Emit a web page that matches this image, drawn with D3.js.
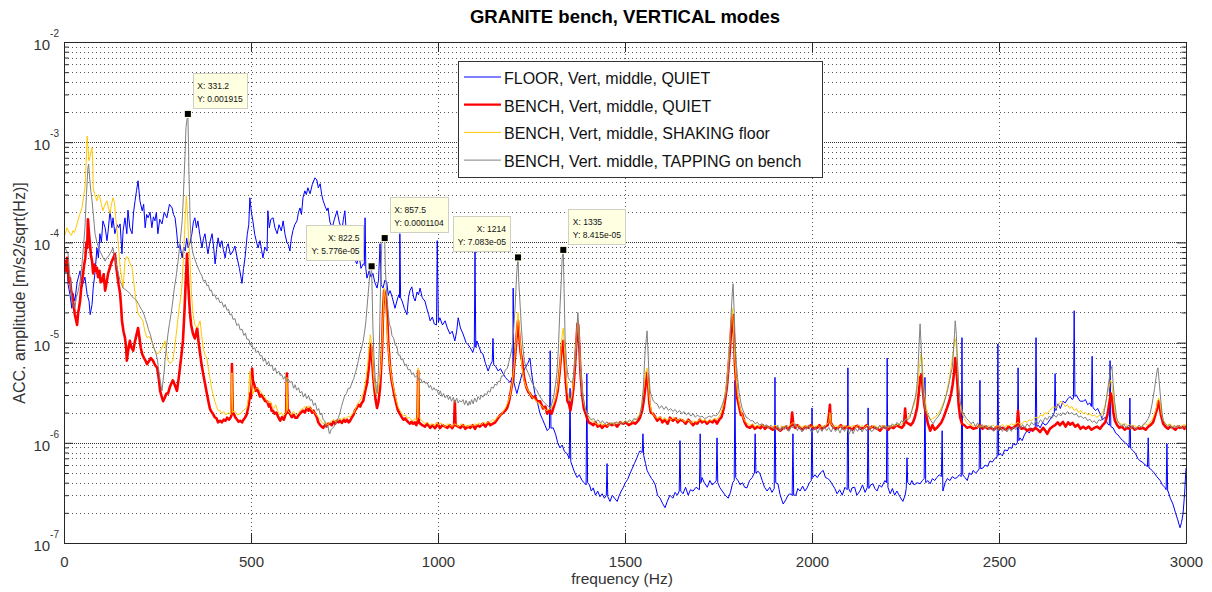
<!DOCTYPE html>
<html>
<head>
<meta charset="UTF-8">
<title>GRANITE bench, VERTICAL modes</title>
<script src="https://d3js.org/d3.v7.min.js"></script>
<style>
  body { margin: 0; background: #fff; }
  svg { font-family: "Liberation Sans", Arial, sans-serif; }
</style>
</head>
<body>
<svg width="1212" height="592"></svg>
<script>
// amplitudes below are in units of 1e-6 m/s2/sqrt(Hz), frequencies in Hz
const UNIT = 1e-6;

const titleText = 'GRANITE bench, VERTICAL modes';
const xLabel = 'frequency (Hz)';
const yLabel = 'ACC. amplitude [m/s2/sqrt(Hz)]';
const seriesNames = [
  'FLOOR, Vert, middle, QUIET',
  'BENCH, Vert, middle, QUIET',
  'BENCH, Vert, middle, SHAKING floor',
  'BENCH, Vert. middle, TAPPING on bench'
];
const xTicks = [0, 500, 1000, 1500, 2000, 2500, 3000];
const yDecades = [-7, -6, -5, -4, -3, -2];

// FLOOR, quiet
const floorQuiet = [
[0,44],[3,52],[8,61],[11,38],[16,30],[21,22],[24,31],[29,26],[35,40],[43,52],[48,36],[56,45],[62,30],[67,26],[70,19],[75,24],[78,35],[83,50],[88,88],[92,70],[96,122],[100,100],[104,164],[110,140],[115,104],[118,130],[123,207],[128,140],[131,176],[136,122],[142,150],[146,140],[150,153],[155,77],[158,130],[163,176],[168,122],[171,210],[176,140],[182,122],[186,200],[190,260],[194,330],[198,412],[203,260],[209,207],[213,240],[217,140],[221,190],[225,176],[230,200],[235,140],[239,180],[243,164],[247,200],[251,122],[256,170],[262,153],[268,200],[275,176],[282,240],[289,221],[293,190],[297,176],[301,130],[305,88],[310,95],[316,70],[320,90],[324,82],[328,110],[332,88],[337,100],[342,122],[346,160],[350,176],[354,140],[358,164],[363,120],[369,88],[373,110],[377,122],[381,95],[385,77],[390,100],[396,122],[400,90],[404,61],[408,85],[412,111],[417,90],[422,104],[426,85],[431,70],[435,90],[439,97],[445,75],[452,82],[457,92],[463,70],[469,55],[476,39],[480,55],[484,70],[490,120],[494,150],[497,279],[501,200],[505,164],[510,120],[515,100],[519,88],[524,104],[528,85],[532,70],[537,90],[543,82],[545,207],[549,140],[553,170],[559,176],[564,140],[570,122],[575,150],[581,130],[586,164],[591,120],[596,100],[600,95],[604,82],[608,110],[612,131],[617,150],[623,164],[627,200],[631,221],[635,190],[639,279],[644,327],[648,300],[652,351],[658,306],[664,380],[671,441],[676,420],[680,350],[685,385],[689,300],[693,260],[698,230],[703,207],[706,221],[711,160],[717,140],[723,170],[730,207],[736,160],[743,131],[747,170],[751,207],[754,140],[757,104],[761,120],[765,104],[770,85],[776,70],[783,61],[789,75],[794,55],[800,61],[803,60],[805,176],[807,55],[810,44],[816,52],[821,45],[826,49],[831,40],[837,35],[841,42],[845,97],[848,38],[853,35],[858,42],[863,40],[867,30],[872,33],[878,28],[885,22],[890,26],[895,30],[897,28],[898,122],[900,28],[904,26],[910,22],[917,19],[921,28],[925,33],[930,36],[935,28],[939,26],[944,32],[948,30],[952,35],[958,28],[965,26],[970,22],[975,19],[979,16.5],[985,18],[990,15.4],[996,15],[998,104],[1001,16],[1005,17.7],[1012,15],[1019,16.5],[1025,14],[1032,12.2],[1038,13],[1045,10.4],[1050,13],[1054,17.7],[1060,14],[1067,12.2],[1075,10],[1081,9.5],[1086,8.9],[1093,8],[1097,9],[1099,82],[1101,9],[1104,10.4],[1110,9],[1115,8],[1120,7.7],[1127,6.2],[1134,5.2],[1140,6],[1145,6.5],[1147,11],[1149,6],[1154,5.8],[1161,5.2],[1167,5.5],[1174,4.9],[1180,4.5],[1187,4.2],[1193,4],[1198,4.5],[1200,4],[1201,35],[1203,4],[1207,3.5],[1211,3.1],[1217,3.8],[1225,4.9],[1232,5.5],[1240,6.2],[1246,7],[1250,5],[1255,3.8],[1259,3.1],[1265,2.6],[1273,1.95],[1280,1.7],[1286,1.5],[1292,1.32],[1298,1.4],[1300,8.3],[1302,1.4],[1308,1.41],[1315,1.2],[1320,1],[1326,0.89],[1332,0.95],[1338,0.82],[1345,0.78],[1351,0.7],[1353,3.5],[1355,0.65],[1361,0.56],[1366,0.5],[1372,0.45],[1378,0.48],[1385,0.42],[1391,0.4],[1396,0.38],[1398,4.9],[1400,0.4],[1405,0.38],[1410,0.33],[1415,0.355],[1421,0.3],[1427,0.33],[1433,0.29],[1439,0.31],[1445,0.28],[1450,0.3],[1452,0.62],[1454,0.29],[1460,0.26],[1466,0.3],[1472,0.28],[1479,0.26],[1485,0.3],[1490,0.33],[1495,0.355],[1501,0.4],[1507,0.43],[1513,0.49],[1519,0.55],[1525,0.62],[1532,0.71],[1536,0.78],[1540,0.83],[1546,0.8],[1548,1.23],[1550,0.75],[1555,0.62],[1559,0.53],[1565,0.48],[1571,0.44],[1575,0.42],[1581,0.38],[1587,0.3],[1594,0.28],[1600,0.25],[1607,0.225],[1613,0.26],[1620,0.3],[1628,0.28],[1634,0.32],[1640,0.3],[1645,0.33],[1647,1.05],[1649,0.33],[1655,0.31],[1662,0.36],[1669,0.3],[1675,0.34],[1682,0.33],[1690,0.36],[1699,0.34],[1701,1.23],[1703,0.4],[1706,0.45],[1712,0.4],[1720,0.36],[1727,0.42],[1733,0.38],[1740,0.4],[1744,0.42],[1746,1.12],[1748,0.4],[1754,0.355],[1760,0.33],[1768,0.3],[1776,0.28],[1782,0.32],[1788,0.4],[1792,0.42],[1794,4.2],[1796,0.45],[1802,0.42],[1808,0.38],[1814,0.4],[1820,0.36],[1826,0.355],[1833,0.42],[1840,0.45],[1846,0.5],[1848,1.23],[1850,0.5],[1856,0.52],[1861,0.49],[1867,0.42],[1873,0.36],[1880,0.33],[1887,0.36],[1893,0.32],[1899,0.35],[1901,4.5],[1903,0.4],[1909,0.39],[1915,0.3],[1923,0.245],[1930,0.27],[1936,0.3],[1941,0.31],[1947,0.3],[1949,1.23],[1951,0.3],[1957,0.3],[1962,0.35],[1968,0.33],[1975,0.37],[1981,0.33],[1987,0.355],[1993,0.4],[1998,0.42],[2000,2.23],[2002,0.45],[2008,0.48],[2014,0.45],[2022,0.5],[2030,0.53],[2036,0.45],[2042,0.44],[2048,0.42],[2055,0.38],[2061,0.35],[2067,0.31],[2074,0.34],[2081,0.3],[2088,0.36],[2094,0.34],[2096,5.6],[2098,0.35],[2103,0.32],[2107,0.355],[2114,0.36],[2120,0.3],[2128,0.33],[2135,0.38],[2142,0.32],[2148,0.36],[2150,2.23],[2152,0.35],[2157,0.38],[2163,0.39],[2168,0.35],[2174,0.33],[2180,0.38],[2186,0.36],[2192,0.4],[2195,0.42],[2199,0.4],[2201,7],[2203,0.36],[2209,0.31],[2215,0.35],[2221,0.3],[2227,0.33],[2235,0.29],[2243,0.26],[2249,0.3],[2252,0.35],[2254,0.71],[2256,0.4],[2262,0.38],[2267,0.42],[2273,0.38],[2281,0.4],[2289,0.39],[2295,0.42],[2300,0.44],[2302,4.5],[2304,0.4],[2310,0.42],[2316,0.39],[2322,0.44],[2328,0.42],[2334,0.45],[2340,0.48],[2346,0.46],[2348,1.32],[2350,0.33],[2356,0.4],[2362,0.44],[2369,0.42],[2375,0.46],[2382,0.44],[2388,0.45],[2394,0.48],[2399,0.46],[2401,11.2],[2403,0.48],[2409,0.45],[2415,0.42],[2421,0.5],[2426,0.48],[2431,0.53],[2437,0.5],[2443,0.52],[2447,0.55],[2449,4.2],[2451,0.55],[2457,0.56],[2463,0.6],[2469,0.58],[2476,0.66],[2482,0.64],[2489,0.7],[2495,0.72],[2497,9.7],[2499,0.75],[2503,0.78],[2509,0.74],[2515,0.85],[2522,0.83],[2528,0.9],[2534,0.88],[2538,0.98],[2545,0.95],[2549,1],[2551,5.6],[2553,1.05],[2556,1.12],[2562,1.05],[2568,1.2],[2575,1.32],[2581,1.25],[2587,1.4],[2593,1.35],[2597,1.45],[2599,11.2],[2601,1.45],[2605,1.5],[2610,1.41],[2617,1.6],[2623,1.5],[2629,1.55],[2636,1.7],[2643,1.85],[2648,2],[2650,4.9],[2652,2.1],[2658,2.45],[2664,2.2],[2671,2.6],[2677,2.5],[2684,2.75],[2690,2.9],[2696,2.7],[2699,2.8],[2701,20.8],[2703,2.9],[2707,3],[2711,2.8],[2717,2.6],[2725,2.6],[2731,2.7],[2737,2.4],[2743,2.5],[2747,2.3],[2749,7.3],[2751,2.3],[2752,2.23],[2758,2.1],[2764,2.2],[2770,1.95],[2777,1.7],[2784,1.8],[2790,1.55],[2795,1.5],[2797,6.6],[2799,1.45],[2805,1.41],[2812,1.25],[2818,1.2],[2824,1.12],[2831,1.05],[2838,1],[2844,0.95],[2848,0.9],[2850,2.8],[2852,0.88],[2859,0.83],[2865,0.78],[2871,0.7],[2877,0.66],[2884,0.64],[2891,0.6],[2897,0.58],[2899,1.12],[2901,0.56],[2905,0.55],[2909,0.53],[2915,0.5],[2922,0.46],[2931,0.42],[2937,0.38],[2943,0.36],[2947,0.34],[2949,0.98],[2951,0.33],[2952,0.33],[2958,0.28],[2965,0.245],[2972,0.2],[2978,0.17],[2984,0.142],[2988,0.16],[2992,0.195],[2996,0.3],[3000,0.56]
];

// BENCH, quiet
const benchQuiet = [
[0,60],[3,65],[6,52],[8,70],[11,49],[14,40],[16,44],[19,33],[21,31],[24,26],[27,22],[29,19],[32,17],[35,15],[38,20],[40,22],[43,26],[46,35],[48,40],[51,49],[54,60],[57,70],[60,100],[62,88],[64,170],[67,120],[70,90],[72,75],[75,65],[78,49],[81,60],[84,52],[88,56],[91,45],[95,52],[98,40],[102,41],[106,48],[110,33],[114,40],[118,49],[122,55],[125,60],[128,65],[132,70],[136,77],[139,60],[142,49],[146,38],[150,31],[153,22],[155,16.5],[159,13],[163,11.2],[166,9],[168,6.6],[172,8.5],[176,10.4],[180,9],[185,8.3],[189,10],[194,12],[198,14],[202,11],[205,9],[209,7.7],[214,7],[218,6.6],[222,6.1],[227,6.5],[232,7],[238,6.6],[243,6],[249,5.6],[253,4.5],[257,3.3],[261,2.9],[265,2.6],[269,2.8],[274,3.1],[278,3.1],[283,3.6],[287,3.9],[291,4.2],[296,3.8],[302,3.3],[306,4.2],[310,5.6],[314,7.5],[318,10.4],[322,20],[326,45],[329,77],[332,40],[335,25],[337,19.4],[340,15],[345,12.2],[350,11],[356,14],[360,10],[364,7.7],[368,6],[372,4.9],[377,3.9],[382,3.1],[386,2.6],[390,2.2],[394,2.05],[398,1.95],[403,1.8],[408,1.75],[412,1.6],[417,1.66],[422,1.6],[427,1.7],[432,1.66],[436,1.78],[441,1.7],[446,1.8],[448,1.9],[449,6.1],[451,2],[454,1.95],[458,1.8],[463,1.7],[467,1.62],[471,1.66],[476,1.6],[480,1.7],[484,1.78],[488,1.9],[492,2.2],[495,2.6],[497,3.1],[500,2.8],[502,4],[503,5.5],[505,4.2],[509,3.8],[512,3.3],[516,3.5],[520,3.2],[524,2.9],
[528,3],[533,2.8],[538,2.6],[543,2.6],[548,2.3],[552,2.45],[555,2.09],[559,2.09],[563,1.95],[568,2.0],[573,1.8],[578,1.66],[583,1.8],[588,1.7],[592,1.9],[594,2.0],[596,4.9],[598,2.0],[601,2.1],[604,1.95],[609,1.8],[614,1.9],[618,1.78],[623,1.78],[628,1.9],[633,2.0],[639,2.09],[644,2.0],[649,2.23],[654,2.09],[658,2.23],[663,2.0],[667,2.1],[671,1.95],[676,1.8],[680,1.6],[685,1.5],[689,1.45],[693,1.41],[698,1.5],[702,1.45],[706,1.55],[711,1.55],[716,1.5],[720,1.62],[725,1.55],[729,1.66],[734,1.6],[738,1.66],[743,1.58],[748,1.7],[752,1.62],[757,1.7],[761,1.6],[765,1.66],[770,1.8],[774,1.9],[778,2.1],[783,2.23],[787,2.4],[792,2.3],[796,2.5],[800,2.6],[804,3.1],[807,3.5],[810,3.9],[814,5.2],[817,7],[820,9.7],[822,8.9],[824,6.5],[827,4.5],[830,3.4],[833,2.7],[837,2.23],[841,2.6],[845,3.5],[848,5.6],[851,10],[853,20],[856,33],[859,30],[862,24],[864,19.4],[867,10],[870,7],[872,5.6],[876,4.2],[880,3.5],[884,2.9],[889,2.4],[893,2.1],[898,1.95],[903,1.8],[908,1.7],[912,1.75],[917,1.66],[921,1.6],[925,1.55],[929,1.62],[933,1.55],[938,1.6],[942,1.5],[945,1.6],[947,5.2],[949,1.6],[953,1.55],
[958,1.5],[965,1.45],[971,1.55],[979,1.41],[986,1.5],[992,1.4],[1000,1.55],[1005,1.4],[1012,1.5],[1019,1.45],[1025,1.41],[1032,1.5],[1038,1.4],[1043,1.5],[1045,2.6],[1047,1.5],[1054,1.45],[1060,1.41],[1067,1.5],[1073,1.38],[1080,1.45],[1086,1.41],[1093,1.5],[1099,1.38],[1105,1.5],[1112,1.45],[1120,1.55],[1127,1.45],[1134,1.6],[1140,1.5],[1147,1.55],[1153,1.6],
[1161,1.78],[1167,1.9],[1174,2.0],[1180,2.1],[1185,2.23],[1190,2.6],[1195,3.3],[1201,4.5],[1205,6.6],[1209,10],[1212,14],[1214,16.5],[1217,12],[1221,8],[1225,6.6],[1230,4.5],[1236,3.6],[1242,3.2],[1246,3.1],[1252,2.8],[1259,2.9],[1265,2.6],[1273,2.6],[1281,2.2],[1287,2.3],[1292,1.95],[1298,2.1],[1304,1.95],[1308,2.2],[1314,2.6],
[1320,3.3],[1325,5],[1329,7.5],[1332,10],[1335,10.4],[1338,7],[1342,4],[1346,2.6],[1350,2.45],[1354,2.1],[1358,2.6],[1362,3.5],[1366,5.6],[1370,10],[1373,15.4],[1375,15],[1378,9],[1381,5],[1385,3.1],[1390,2.2],[1395,1.95],[1398,1.78],
[1403,1.6],[1410,1.55],[1415,1.5],[1421,1.6],[1427,1.45],[1433,1.5],[1439,1.41],[1445,1.5],[1452,1.45],[1458,1.55],[1465,1.5],[1472,1.55],[1479,1.45],[1487,1.6],[1495,1.55],[1502,1.6],[1510,1.5],[1517,1.55],[1521,1.6],[1528,1.55],[1535,1.66],[1540,1.78],[1546,2.1],[1550,2.6],[1554,3.5],[1557,4.5],[1559,5],[1562,3.8],[1565,2.5],[1569,2.0],[1575,1.95],[1581,1.8],[1586,1.66],[1594,1.78],[1600,1.6],[1607,1.7],[1614,1.55],[1620,1.78],[1628,1.66],[1636,1.75],[1641,1.6],[1647,1.7],[1655,1.66],[1662,1.55],[1669,1.7],[1676,1.6],[1682,1.5],[1689,1.6],[1693,1.55],[1700,1.7],[1706,1.6],[1713,1.66],[1719,1.55],[1727,1.66],[1734,1.6],[1740,1.7],[1746,1.55],[1752,1.7],[1758,1.8],[1764,2.2],[1767,2.6],[1772,3.5],[1776,5.2],[1781,9],[1785,16],[1788,19],[1791,12],[1794,6],[1797,4],[1800,2.8],[1805,2.3],[1810,1.9],[1813,1.95],[1820,1.6],[1826,1.45],[1834,1.41],[1840,1.5],[1847,1.38],[1855,1.45],[1862,1.4],[1868,1.5],[1874,1.38],[1880,1.45],[1888,1.41],[1895,1.35],[1901,1.45],[1908,1.38],[1915,1.32],[1922,1.4],[1930,1.45],[1937,1.35],[1944,1.5],[1947,2.0],[1950,1.5],[1955,1.41],[1961,1.5],[1968,1.41],[1975,1.35],[1982,1.45],[1990,1.41],[1997,1.5],[2005,1.38],[2014,1.41],[2020,1.5],[2027,1.38],[2035,1.45],[2042,1.5],[2046,2.0],[2048,2.4],[2050,1.6],[2056,1.45],[2063,1.38],[2070,1.41],[2077,1.5],[2084,1.38],[2092,1.45],[2100,1.41],[2108,1.35],[2115,1.45],[2122,1.48],[2130,1.38],[2138,1.41],[2146,1.5],[2153,1.38],[2160,1.45],[2168,1.41],[2175,1.38],[2182,1.32],[2190,1.45],[2197,1.41],[2204,1.35],[2211,1.45],[2218,1.4],[2226,1.5],[2233,1.45],[2240,1.41],[2246,1.5],[2249,2.2],[2252,1.6],[2258,1.55],[2264,1.5],[2270,1.6],[2275,1.8],[2281,2.23],[2285,3],[2289,4.5],[2293,4.8],[2296,3.5],[2300,2.4],[2305,1.9],[2310,1.55],[2316,1.32],[2322,1.5],[2328,1.35],[2334,1.41],[2340,1.5],[2346,1.6],[2352,1.8],[2361,2.23],[2367,2.6],[2372,3.1],[2376,3.8],[2380,5],[2383,7],[2386,6],[2389,3.8],[2392,2.4],[2396,1.8],[2401,1.55],[2407,1.5],[2415,1.41],[2423,1.45],[2431,1.38],[2441,1.41],[2449,1.5],[2456,1.38],[2463,1.45],[2470,1.38],[2478,1.41],[2486,1.35],[2495,1.45],[2502,1.38],[2510,1.41],[2518,1.35],[2526,1.45],[2534,1.38],[2542,1.45],[2548,1.5],[2551,2.09],[2554,1.45],[2560,1.38],[2568,1.41],[2575,1.32],[2583,1.38],[2590,1.32],[2597,1.41],[2604,1.35],[2610,1.28],[2618,1.41],[2624,1.32],[2629,1.23],[2636,1.38],[2643,1.45],[2650,1.5],[2657,1.6],[2663,1.5],[2671,1.62],[2678,1.45],[2685,1.6],[2690,1.52],[2697,1.58],[2704,1.45],[2711,1.52],[2718,1.38],[2725,1.45],[2732,1.38],[2740,1.45],[2747,1.35],[2755,1.41],[2762,1.45],[2770,1.38],[2777,1.5],[2784,1.6],[2790,1.9],[2795,2.5],[2799,3.1],[2802,2.9],[2806,2.0],[2810,1.66],[2816,1.5],[2822,1.41],[2829,1.45],[2836,1.35],[2842,1.41],[2849,1.38],[2856,1.45],[2863,1.35],[2870,1.41],[2877,1.38],[2885,1.41],[2892,1.35],[2899,1.45],[2905,1.5],[2912,1.6],[2918,1.9],[2923,2.2],[2926,2.6],[2929,2.4],[2933,1.9],[2939,1.55],[2945,1.45],[2952,1.38],[2958,1.45],[2965,1.41],[2972,1.35],[2978,1.45],[2984,1.41],[2991,1.45],[2996,1.38],[3000,1.48]
];

// BENCH, shaking floor
const benchShaking = [
[0,110],[3,120],[8,140],[12,130],[16,122],[20,118],[24,131],[28,125],[32,140],[37,164],[42,190],[48,221],[52,280],[56,351],[59,600],[62,1150],[64,900],[67,652],[70,720],[72,800],[75,879],[77,600],[78,351],[82,300],[85,280],[88,260],[92,300],[96,279],[100,240],[104,207],[108,230],[112,250],[115,260],[119,220],[123,193],[127,240],[131,279],[135,250],[138,180],[142,131],[146,90],[150,56],[154,45],[158,35],[160,45],[163,65],[167,72],[171,70],[176,62],[182,56],[186,42],[190,31],[194,24],[198,19.4],[204,18],[211,16.5],[216,13],[222,11.2],[228,11.5],[235,10.4],[239,9],[243,8.3],[247,8],[251,7.7],[256,8.2],[262,8.9],[266,9.5],[270,10.4],[274,8],[278,6.6],[284,6.2],[291,6.6],[296,9],[302,14],[308,22],[313,30],[316,41],[320,80],[324,176],[327,292],[330,200],[333,110],[337,65],[341,30],[345,19.4],[350,15],[356,14],[360,15],[364,16.5],[368,12],[372,8.9],[377,7.5],[382,7],[386,5.5],[390,4.5],[394,3.6],[398,3.1],[403,2.6],[408,2.3],[412,2.1],[417,2.09],[422,1.95],[427,2.05],[432,1.9],[436,1.95],[441,2.0],[446,1.9],[449,5],[451,2.0],[455,2.09],[460,2.0],[465,1.9],[471,1.95],[476,2.05],[480,2.1],[485,2.2],[489,2.23],[493,2.8],[497,5.2],[501,4],[505,3.1],[510,3.4],[515,3.5],[519,3.5],[524,3.3],[530,3.1],[535,2.9],[541,2.7],[546,2.5],[551,2.6],[556,2.3],[561,2.2],[566,2.4],[571,2.1],[576,1.9],[581,2.0],[586,1.85],[591,1.95],[594,2.0],[596,4.5],[598,2.1],[603,2.0],[608,1.9],[613,2.05],[618,1.95],[623,1.9],[628,2.0],[633,2.15],[639,2.2],[644,2.3],[649,2.2],[654,2.35],[659,2.2],[664,2.1],[670,2.0],[675,1.9],[680,1.8],[685,1.7],[690,1.6],[695,1.55],[700,1.6],[705,1.5],[711,1.6],[716,1.66],[721,1.7],[727,1.62],[732,1.7],[738,1.75],[743,1.68],[749,1.8],[754,1.75],[760,1.85],[765,1.8],[770,1.95],[775,2.0],[780,2.2],[785,2.4],[790,2.6],[795,2.8],[800,3.1],[804,3.6],[808,4.5],[812,6],[816,9],[819,12],[822,10],[825,6.6],[828,4.5],[831,3.6],[835,3.0],[839,3.2],[843,4],[847,5.5],[850,9],[853,18],[856,35],[859,28],[862,18],[866,10],[870,6.6],[874,5],[878,4],[883,3.3],[888,2.7],[893,2.3],[898,2.1],[903,1.95],[908,1.85],[913,1.9],[918,1.75],[923,1.8],[928,1.7],[933,1.66],[938,1.75],[943,1.65],[945,1.8],[947,5.6],[949,1.8],[954,1.7],[960,1.62],[966,1.55],[972,1.6],[978,1.5],[984,1.55],[990,1.48],[996,1.6],[1002,1.5],[1008,1.58],[1014,1.5],[1020,1.45],[1026,1.55],[1032,1.5],[1038,1.45],[1044,1.55],[1050,1.5],[1056,1.45],[1062,1.55],[1068,1.48],[1074,1.5],[1080,1.45],[1086,1.52],[1092,1.48],[1098,1.55],[1104,1.5],[1110,1.58],[1116,1.52],[1122,1.6],[1128,1.55],[1134,1.62],[1140,1.6],[1146,1.7],[1152,1.66],[1158,1.8],[1164,1.85],[1170,1.95],[1176,2.1],[1182,2.3],[1188,2.6],[1193,3.0],[1198,3.9],[1203,5.6],[1207,8.5],[1211,14],[1214,20],[1217,14],[1221,8.5],[1225,5.6],[1230,4.2],[1236,3.6],[1242,3.3],[1248,3.0],[1254,2.8],[1260,2.7],[1266,2.5],[1272,2.45],[1278,2.3],[1284,2.2],[1290,2.1],[1296,2.15],[1302,2.2],[1308,2.4],[1314,2.8],[1320,3.6],[1325,5.2],[1329,8.5],[1332,12],[1335,14],[1338,9],[1342,5],[1346,3.3],[1350,2.8],[1354,2.6],[1358,3],[1362,4],[1366,6.6],[1370,11],[1373,15],[1375,17],[1378,10],[1381,5.6],[1385,3.4],[1390,2.5],[1395,2.1],[1400,1.9],[1406,1.75],[1412,1.66],[1418,1.6],[1424,1.55],[1430,1.5],[1436,1.6],[1442,1.5],[1448,1.55],[1454,1.48],[1460,1.55],[1466,1.6],[1472,1.52],[1478,1.6],[1484,1.55],[1490,1.62],[1496,1.58],[1502,1.66],[1508,1.6],[1514,1.66],[1520,1.62],[1526,1.7],[1532,1.75],[1538,1.9],[1543,2.2],[1548,3],[1552,4],[1556,5.2],[1559,5.6],[1562,4],[1566,2.6],[1570,2.1],[1576,1.9],[1582,1.8],[1588,1.75],[1594,1.82],[1600,1.7],[1606,1.78],[1612,1.66],[1618,1.75],[1624,1.7],[1630,1.8],[1636,1.72],[1642,1.66],[1648,1.75],[1654,1.68],[1660,1.62],[1666,1.7],[1672,1.65],[1678,1.58],[1684,1.66],[1690,1.6],[1696,1.66],[1702,1.72],[1708,1.65],[1714,1.7],[1720,1.62],[1726,1.7],[1732,1.66],[1738,1.75],[1744,1.7],[1750,1.8],[1756,1.95],[1762,2.3],[1767,2.9],[1772,4],[1776,6],[1780,10],[1784,18],[1787,22],[1790,14],[1793,7.5],[1797,4.5],[1801,3.1],[1806,2.4],[1811,2.0],[1817,1.75],[1823,1.6],[1829,1.55],[1835,1.48],[1841,1.55],[1847,1.45],[1853,1.5],[1859,1.45],[1865,1.52],[1871,1.45],[1877,1.5],[1883,1.42],[1889,1.48],[1895,1.4],[1901,1.5],[1907,1.45],[1913,1.4],[1919,1.48],[1925,1.42],[1931,1.5],[1937,1.45],[1943,1.52],[1949,1.6],[1955,1.48],[1961,1.45],[1967,1.5],[1973,1.42],[1979,1.48],[1985,1.45],[1991,1.5],[1997,1.42],[2003,1.48],[2009,1.45],[2015,1.5],[2021,1.42],[2027,1.48],[2033,1.45],[2039,1.52],[2045,1.6],[2048,2.0],[2051,1.55],[2057,1.45],[2063,1.5],[2069,1.42],[2075,1.48],[2081,1.45],[2087,1.5],[2093,1.42],[2099,1.48],[2105,1.44],[2111,1.5],[2117,1.42],[2123,1.5],[2129,1.45],[2135,1.48],[2141,1.42],[2147,1.5],[2153,1.45],[2159,1.42],[2165,1.5],[2171,1.45],[2177,1.4],[2183,1.48],[2189,1.45],[2195,1.5],[2201,1.42],[2207,1.48],[2213,1.45],[2219,1.52],[2225,1.48],[2231,1.55],[2237,1.5],[2243,1.58],[2249,1.7],[2255,1.75],[2261,1.9],[2267,2.1],[2273,2.4],[2278,2.9],[2283,3.8],[2287,5.5],[2291,7.7],[2294,7],[2297,4.5],[2301,3],[2306,2.2],[2311,1.9],[2317,1.7],[2323,1.75],[2329,1.8],[2335,1.9],[2341,2.05],[2347,2.3],[2353,2.6],[2359,3.1],[2364,3.8],[2369,4.8],[2374,6.5],[2378,8.5],[2382,11],[2385,10],[2388,6.5],[2392,3.8],[2396,2.6],[2401,2.0],[2407,1.75],[2413,1.6],[2419,1.52],[2425,1.55],[2431,1.45],[2437,1.5],[2443,1.42],[2449,1.48],[2455,1.45],[2461,1.5],[2467,1.42],[2473,1.48],[2479,1.45],[2485,1.5],[2491,1.42],[2497,1.48],[2503,1.45],[2509,1.52],[2515,1.45],[2521,1.5],[2527,1.48],[2533,1.55],[2539,1.5],[2545,1.55],[2551,1.6],[2557,1.52],[2563,1.58],[2569,1.65],[2575,1.6],[2581,1.7],[2587,1.66],[2593,1.75],[2599,1.8],[2605,1.75],[2611,1.9],[2617,1.85],[2623,2.0],[2629,1.95],[2635,2.1],[2641,2.2],[2647,2.3],[2653,2.2],[2659,2.4],[2665,2.6],[2671,2.5],[2677,2.3],[2683,2.4],[2689,2.2],[2695,2.3],[2701,2.1],[2707,2.2],[2713,2.0],[2719,2.1],[2725,1.95],[2731,2.0],[2737,1.9],[2743,1.95],[2749,1.85],[2755,1.9],[2761,1.8],[2767,1.85],[2773,1.9],[2779,2.1],[2784,2.4],[2789,2.9],[2794,3.6],[2798,4.2],[2801,4],[2805,3],[2809,2.2],[2814,1.8],[2820,1.6],[2826,1.55],[2832,1.5],[2838,1.55],[2844,1.48],[2850,1.52],[2856,1.45],[2862,1.5],[2868,1.42],[2874,1.48],[2880,1.45],[2886,1.5],[2892,1.55],[2898,1.5],[2904,1.6],[2910,1.7],[2915,1.9],[2920,2.2],[2924,2.6],[2927,2.8],[2930,2.6],[2934,2.0],[2939,1.7],[2945,1.55],[2951,1.5],[2957,1.55],[2963,1.45],[2969,1.5],[2975,1.42],[2981,1.48],[2987,1.45],[2993,1.52],[3000,1.5]
];

// BENCH, tapping on bench
const benchTapping = [
[0,80],[3,88],[7,82],[11,77],[14,55],[17,40],[21,26],[25,24],[29,22],[33,28],[38,33],[43,41],[48,60],[52,90],[56,140],[60,300],[64,556],[66,600],[69,420],[72,320],[75,260],[79,180],[83,122],[88,100],[92,90],[96,82],[101,75],[105,70],[110,65],[114,70],[118,72],[123,77],[127,82],[131,88],[134,75],[138,65],[142,56],[146,48],[150,41],[154,38],[158,35],[163,34],[168,33],[172,32],[176,31],[181,29],[186,28],[190,27],[195,26],[200,24],[205,22],[209,21],[214,19],[218,17],[222,15.4],[226,13.5],[231,12],[235,10.4],[240,9],[245,8],[249,7],[252,5.8],[255,4.8],[257,4.2],[260,3.6],[262,3.3],[265,4.2],[268,5.2],[270,6.6],[274,9],[278,12.2],[282,15.5],[286,19],[291,26],[295,35],[300,46],[305,65],[309,90],[313,125],[316,164],[319,280],[321,441],[324,800],[326,1393],[329,1700],[331.2,1915],[333,900],[334,518],[336,260],[337,176],[339,120],[342,88],
[346,75],[350,68],[355,60],[360,54],[364,50],[368,47],[373,41],[378,42],[382,37],[386,37.5],[390,33],[394,33.5],[398,29.5],[403,30],[408,27],[412,28],[417,25],[422,25.5],[427,22.5],[431,24],[436,21],[440,21.5],[444,18.8],[448,19.4],[452,17],[457,17.4],[462,14.8],[467,15.4],[471,13.4],[476,13.6],[481,11.8],[485,12.4],[489,10.8],[494,10.8],[498,9.4],[502,9.8],[505,8.6],[510,8.9],[514,7.9],[519,8.3],[524,7.4],[529,7.4],[533,6.5],[538,6.9],[542,6.0],[547,6.5],[551,5.8],[556,6.0],[560,5.2],[565,5.6],[569,4.9],[574,5.2],[578,4.7],[582,4.8],[587,4.3],[591,4.6],[596,4.1],[600,4.3],[604,4.0],[609,4.1],[614,3.5],[618,3.8],[622,3.35],[627,3.55],[631,3.15],[636,3.25],[640,2.85],[645,3.1],[649,2.75],[654,2.95],[658,2.65],[663,2.7],[667,2.35],[672,2.5],[677,2.1],[681,2.2],[685,1.9],[689,1.98],[693,1.7],[697,1.66],[701,1.42],[706,1.47],[709,1.25],[711,1.23],
[714,1.35],[718,1.4],[722,1.45],[726,1.55],[730,1.66],[734,1.8],[738,2.0],[742,2.3],[746,2.6],[750,2.9],[755,3.1],[760,3.5],[765,3.5],[770,4.0],[775,4.4],[779,5.0],[783,5.6],[787,6.6],[791,7.8],[795,8.6],[800,10.4],[804,13],[807,16],[810,22],[813,30],[816,40],[818,52],[820,56],[822.5,57.76],[824,30],[826,14],[829,7],[832,4.5],[835,3.5],[837,3.1],[840,4.5],[843,9],[845,20.8],[847,45],[850,104],[854,108],[857.5,110.4],[859,56],
[862,35],[866,21.5],[870,15.2],[874,14],[877,11.7],[881,11.2],[886,9.4],[890,9.2],[894,7.5],[898,7.5],[902,6.7],[906,6.9],[911,5.9],[915,6.1],[920,5.35],[925,5.4],[930,4.8],[934,5.0],[939,4.5],[944,4.7],[949,4.2],[954,4.35],[958,3.95],[963,4.15],[967,3.9],[971,4.0],[976,3.55],[980,3.75],[985,3.35],[989,3.55],[993,3.35],[997,3.4],[1002,3.0],[1006,3.3],[1011,2.9],[1015,3.1],[1019,2.8],[1024,3.0],[1028,2.7],[1032,2.9],[1036,2.6],[1041,2.85],[1045,2.5],[1050,2.8],[1054,2.5],[1058,2.65],[1062,2.55],[1067,2.7],[1071,2.4],[1075,2.65],[1080,2.35],[1084,2.6],[1086,2.4],[1090,2.7],[1094,2.45],[1098,2.8],[1103,2.55],[1107,2.9],[1112,2.7],[1116,3.0],[1120,2.85],[1125,3.1],[1130,3.0],[1134,3.3],[1139,3.2],[1143,3.6],[1148,3.5],[1152,3.85],[1157,3.75],[1161,4.1],[1166,4.1],[1170,4.65],[1175,4.65],[1180,5.35],[1185,5.5],
[1189,6.3],[1193,7.2],[1198,8.9],[1202,13],[1206,22],[1209,38],[1211,52],[1214,70.83],[1216,40],[1219,26],[1223,14],[1227,8.9],[1231,6.6],[1236,5.5],[1241,5],[1246,4.5],[1251,4],[1256,3.7],[1260,3.5],[1265,3.3],[1270,3.0],[1275,2.8],[1281,2.6],[1285,2.5],[1290,2.4],[1295,2.3],[1300,2.23],[1305,2.5],[1310,3],[1314,3.8],[1318,4.9],[1322,9],[1326,22],[1330,45],[1332,70],[1335,84.15],[1337,35],[1340,10.4],[1344,6],[1348,4.5],[1352,4.2],[1356,4],[1361,4.2],[1365,5.5],[1369,9],[1372,15],[1374,20],[1377,12],[1380,6],[1385,3.3],[1390,2.6],[1394,2.2],[1398,1.95],[1404,1.8],[1410,1.7],[1416,1.75],[1422,1.62],[1428,1.7],[1434,1.58],[1440,1.66],[1446,1.55],[1452,1.62],[1458,1.5],[1464,1.58],[1470,1.52],[1476,1.62],[1482,1.55],[1488,1.6],[1494,1.52],[1500,1.66],[1506,1.58],[1512,1.7],[1518,1.62],[1524,1.75],[1530,1.7],[1536,1.8],[1540,1.9],[1545,2.4],[1549,3.5],[1552,6],[1554,8.3],[1557,11],[1559,13.1],[1561,9],[1564,5],[1567,3.3],[1571,2.9],[1576,2.6],[1581,2.5],[1586,2.45],[1592,2.2],[1598,2.35],[1604,2.15],[1610,2.3],[1616,2.1],[1622,2.2],[1628,2.05],[1634,2.15],[1640,2.0],[1646,2.1],[1652,1.95],[1658,2.05],[1664,1.9],[1670,2.0],[1676,1.85],[1682,1.95],[1688,1.8],[1694,1.9],[1700,1.8],[1706,1.85],[1712,1.75],[1719,1.78],[1725,1.85],[1731,1.8],[1737,1.9],[1743,1.85],[1749,1.95],[1754,2.1],[1760,2.4],[1766,2.8],[1770,3.1],[1774,4.2],[1778,6.5],[1781,10.4],[1784,20],[1787,32],[1789,38.6],[1792,20],[1795,9],[1798,6],[1801,4.5],[1805,3.2],[1809,2.6],[1813,2.23],[1818,2.0],[1824,1.8],[1830,1.75],[1836,1.66],[1842,1.66],[1848,1.55],[1854,1.6],[1860,1.5],[1866,1.55],[1872,1.45],[1878,1.52],[1884,1.4],[1890,1.5],[1896,1.41],[1902,1.35],[1908,1.5],[1914,1.3],[1920,1.45],[1926,1.35],[1932,1.5],[1938,1.3],[1944,1.45],[1949,1.41],[1955,1.55],[1961,1.32],[1967,1.45],[1973,1.28],[1979,1.42],[1985,1.35],[1991,1.5],[1997,1.3],[2003,1.32],[2009,1.45],[2015,1.25],[2021,1.4],[2027,1.3],[2033,1.48],[2039,1.32],[2045,1.42],[2051,1.28],[2057,1.45],[2063,1.3],[2069,1.4],[2075,1.25],[2081,1.45],[2087,1.3],[2093,1.42],[2099,1.22],[2105,1.38],[2110,1.23],[2116,1.4],[2122,1.3],[2128,1.45],[2134,1.28],[2140,1.42],[2146,1.32],[2152,1.48],[2158,1.3],[2163,1.32],[2169,1.45],[2175,1.35],[2181,1.5],[2187,1.38],[2193,1.48],[2199,1.35],[2205,1.5],[2209,1.41],[2215,1.55],[2221,1.45],[2227,1.6],[2233,1.5],[2239,1.66],[2245,1.6],[2251,1.75],[2257,1.7],[2262,1.8],[2267,2.1],[2272,2.5],[2276,2.8],[2280,3.5],[2283,5],[2286,9],[2289,15.4],[2292,9],[2295,4.5],[2298,2.8],[2302,2.2],[2307,1.95],[2313,1.8],[2318,1.66],[2324,1.55],[2330,1.7],[2336,1.8],[2342,1.95],[2348,2.2],[2353,2.5],[2358,2.9],[2363,3.4],[2368,4.2],[2372,5],[2375,5.6],[2378,8],[2381,12],[2383,16.5],[2386,12],[2389,6.5],[2392,3.8],[2396,2.6],[2401,2.1],[2407,1.9],[2413,1.75],[2419,1.66],[2425,1.55],[2431,1.62],[2437,1.45],[2443,1.58],[2449,1.4],[2455,1.52],[2461,1.38],[2467,1.5],[2473,1.35],[2479,1.48],[2485,1.3],[2491,1.45],[2497,1.32],[2503,1.48],[2509,1.3],[2515,1.42],[2521,1.28],[2527,1.4],[2533,1.3],[2539,1.45],[2545,1.35],[2551,1.5],[2557,1.38],[2563,1.52],[2569,1.4],[2575,1.55],[2581,1.45],[2587,1.6],[2593,1.5],[2599,1.66],[2605,1.55],[2611,1.7],[2617,1.6],[2623,1.78],[2629,1.7],[2635,1.85],[2641,1.75],[2647,1.9],[2653,1.8],[2659,1.95],[2665,1.85],[2671,2.0],[2677,1.9],[2683,2.05],[2689,1.95],[2695,2.0],[2701,1.9],[2707,1.95],[2713,1.8],[2719,1.85],[2725,1.75],[2731,1.8],[2737,1.66],[2743,1.72],[2749,1.6],[2755,1.66],[2761,1.55],[2767,1.7],[2773,1.66],[2779,1.9],[2784,2.3],[2789,3.1],[2794,4.2],[2798,5.2],[2802,5.8],[2805,4],[2809,2.6],[2813,2.0],[2816,1.66],[2822,1.55],[2828,1.45],[2834,1.55],[2840,1.4],[2846,1.5],[2852,1.38],[2858,1.48],[2864,1.36],[2869,1.41],[2875,1.5],[2881,1.42],[2887,1.55],[2893,1.6],[2899,1.75],[2904,1.95],[2909,2.4],[2912,2.8],[2916,3.5],[2920,4.5],[2923,5.3],[2925,5.6],[2928,4.2],[2932,2.8],[2936,2.0],[2939,1.66],[2945,1.55],[2951,1.45],[2957,1.52],[2963,1.38],[2969,1.48],[2976,1.41],[2982,1.5],[2988,1.38],[2994,1.45],[3000,1.41]
];

// data tips shown on the tapping curve
const tipFreq = [331.2, 822.5, 857.5, 1214, 1335];
const tipAmp = [0.001915, 5.776e-05, 0.0001104, 7.083e-05, 8.415e-05];
const tipXText = ['331.2', '822.5', '857.5', '1214', '1335'];
const tipYText = ['0.001915', '5.776e-05', '0.0001104', '7.083e-05', '8.415e-05'];
const tipSide = ['right', 'left', 'right', 'left', 'right'];

const seriesColors = ['#0000ff', '#ff0000', '#ffc800', '#808080'];
const seriesWidths = [1, 2.6, 1, 1];

// layout
const plot = { left: 64, right: 1186, top: 42, bottom: 543 };

const svg = d3.select('svg');

const x = d3.scaleLinear().domain([0, 3000]).range([plot.left, plot.right]);
const y = d3.scaleLog().domain([1e-7, 1e-2]).range([plot.bottom, plot.top]);

// minor / major y tick values
const majorY = yDecades.map(k => Math.pow(10, k));
const minorY = [];
yDecades.slice(0, -1).forEach(k => {
  for (let m = 2; m <= 9; m++) minorY.push(m * Math.pow(10, k));
});

// grid
const grid = svg.append('g').attr('shape-rendering', 'crispEdges');
grid.selectAll('.hminor').data(minorY).enter().append('line')
  .attr('x1', plot.left).attr('x2', plot.right)
  .attr('y1', d => Math.round(y(d)) + 0.5).attr('y2', d => Math.round(y(d)) + 0.5)
  .attr('stroke', '#555').attr('stroke-dasharray', '1,3');
grid.selectAll('.hmajor').data(majorY.slice(1, -1)).enter().append('line')
  .attr('x1', plot.left).attr('x2', plot.right)
  .attr('y1', d => Math.round(y(d)) + 0.5).attr('y2', d => Math.round(y(d)) + 0.5)
  .attr('stroke', '#333').attr('stroke-dasharray', '1,1');
grid.selectAll('.vgrid').data(xTicks.slice(1, -1)).enter().append('line')
  .attr('x1', d => Math.round(x(d)) + 0.5).attr('x2', d => Math.round(x(d)) + 0.5)
  .attr('y1', plot.top).attr('y2', plot.bottom)
  .attr('stroke', '#555').attr('stroke-dasharray', '1,3');

// series
const series = [floorQuiet, benchQuiet, benchShaking, benchTapping];

svg.append('clipPath').attr('id', 'plotclip')
  .append('rect')
  .attr('x', plot.left).attr('y', plot.top)
  .attr('width', plot.right - plot.left).attr('height', plot.bottom - plot.top);

const line = d3.line()
  .x(d => x(d[0]))
  .y(d => y(d[1] * UNIT));

const lines = svg.append('g').attr('clip-path', 'url(#plotclip)');
series.forEach((s, i) => {
  lines.append('path')
    .datum(s)
    .attr('fill', 'none')
    .attr('stroke', seriesColors[i])
    .attr('stroke-width', seriesWidths[i])
    .attr('stroke-linejoin', 'round')
    .attr('d', line);
});

// axes
const axisColor = '#262626';
function styleAxis(g) {
  g.select('.domain').attr('stroke', axisColor);
  g.selectAll('.tick line').attr('stroke', axisColor);
  g.attr('font-family', null).attr('font-size', null);
}

svg.append('g')
  .attr('transform', `translate(0,${plot.bottom})`)
  .call(d3.axisBottom(x).tickValues(xTicks).tickFormat(d3.format('d'))
    .tickSize(-10).tickSizeOuter(0).tickPadding(13))
  .call(styleAxis)
  .selectAll('text').attr('font-size', '15px').attr('fill', '#333');

svg.append('g')
  .attr('transform', `translate(0,${plot.top})`)
  .call(d3.axisTop(x).tickValues(xTicks).tickSize(-10).tickSizeOuter(0).tickFormat(''))
  .call(styleAxis);

svg.append('g')
  .attr('transform', `translate(${plot.left},0)`)
  .call(d3.axisLeft(y).tickValues(minorY).tickSize(-4.5).tickSizeOuter(0).tickFormat(''))
  .call(styleAxis);
svg.append('g')
  .attr('transform', `translate(${plot.left},0)`)
  .call(d3.axisLeft(y).tickValues(majorY).tickSize(-9).tickSizeOuter(0).tickFormat(''))
  .call(styleAxis);
svg.append('g')
  .attr('transform', `translate(${plot.right},0)`)
  .call(d3.axisRight(y).tickValues(minorY).tickSize(-4.5).tickSizeOuter(0).tickFormat(''))
  .call(styleAxis);
svg.append('g')
  .attr('transform', `translate(${plot.right},0)`)
  .call(d3.axisRight(y).tickValues(majorY).tickSize(-9).tickSizeOuter(0).tickFormat(''))
  .call(styleAxis);

// y tick labels 10^k
const yLabels = svg.append('g').attr('fill', '#333');
yDecades.forEach(k => {
  const t = yLabels.append('text')
    .attr('x', 59)
    .attr('y', y(Math.pow(10, k)) + 8)
    .attr('text-anchor', 'end')
    .attr('font-size', '15px');
  t.append('tspan').text('10');
  t.append('tspan').attr('dy', -13).attr('font-size', '10px').text(String(k));
});

// titles
svg.append('text')
  .attr('x', 625).attr('y', 23)
  .attr('text-anchor', 'middle')
  .attr('font-size', '18.5px').attr('font-weight', 'bold')
  .attr('fill', '#000')
  .text(titleText);

svg.append('text')
  .attr('x', 622).attr('y', 584)
  .attr('text-anchor', 'middle')
  .attr('font-size', '15.5px').attr('fill', '#333')
  .text(xLabel);

svg.append('text')
  .attr('transform', 'rotate(-90)')
  .attr('x', -293).attr('y', 25)
  .attr('text-anchor', 'middle')
  .attr('font-size', '16px').attr('fill', '#333')
  .text(yLabel);

// legend
const legend = svg.append('g');
legend.append('rect')
  .attr('x', 458.5).attr('y', 61.5).attr('width', 364).attr('height', 116)
  .attr('fill', '#fff').attr('stroke', '#333');
seriesNames.forEach((name, i) => {
  const ly = 77 + i * 27.7;
  legend.append('line')
    .attr('x1', 464).attr('x2', 501).attr('y1', ly).attr('y2', ly)
    .attr('stroke', seriesColors[i]).attr('stroke-width', i === 1 ? 2.2 : 1);
  legend.append('text')
    .attr('x', 504).attr('y', ly + 7)
    .attr('font-size', '16px').attr('fill', '#111')
    .text(name);
});

// data tips
const tips = svg.append('g');
tipFreq.forEach((f, i) => {
  const mx = x(f), my = y(tipAmp[i]);
  const g = tips.append('g');
  const t1 = g.append('text').attr('font-size', '8.5px').attr('fill', '#111').text('X: ' + tipXText[i]);
  const t2 = g.append('text').attr('font-size', '8.5px').attr('fill', '#111').text('Y: ' + tipYText[i]);
  const w = Math.max(t1.node().getComputedTextLength(), t2.node().getComputedTextLength()) + 9;
  const h = 35;
  const bx = tipSide[i] === 'right' ? mx + 5 : mx - 8 - w;
  const by = my - 6 - h;
  g.insert('rect', 'text')
    .attr('x', Math.round(bx) + 0.5).attr('y', Math.round(by) + 0.5)
    .attr('width', Math.round(w)).attr('height', h)
    .attr('fill', '#ffffe1').attr('stroke', '#cfcfc4');
  if (tipSide[i] === 'right') {
    t1.attr('x', bx + 4.5).attr('y', by + 16);
    t2.attr('x', bx + 4.5).attr('y', by + 29);
  } else {
    t1.attr('x', bx + w - 4).attr('y', by + 16).attr('text-anchor', 'end');
    t2.attr('x', bx + w - 4).attr('y', by + 29).attr('text-anchor', 'end');
  }
  g.append('rect')
    .attr('x', mx - 4).attr('y', my - 4).attr('width', 8).attr('height', 8)
    .attr('fill', '#ffffe1');
  g.append('rect')
    .attr('x', mx - 3).attr('y', my - 3).attr('width', 6).attr('height', 6)
    .attr('fill', '#000');
});
</script>
</body>
</html>
